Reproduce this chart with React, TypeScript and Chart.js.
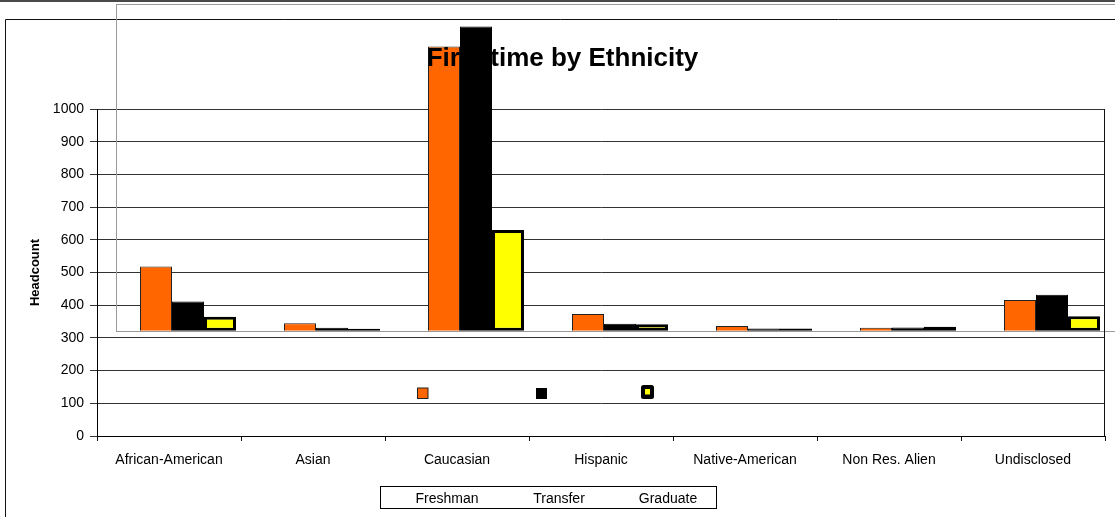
import React, { useEffect, useRef } from 'react';
import { Chart, registerables } from 'chart.js';

Chart.register(...registerables);

// ---- data ----
const categories = ['African-American', 'Asian', 'Caucasian', 'Hispanic', 'Native-American', 'Non Res. Alien', 'Undisclosed'];
const seriesNames = ['Freshman', 'Transfer', 'Graduate'];
const freshman = [196, 23, 869, 51, 14, 9, 94];
const transfer = [89, 9, 930, 21, 7, 10, 110];
const graduate = [43, 6, 308, 20, 7, 12, 44];
const yMin = 0;
const yMax = 1000;
const yStep = 100;
const chartTitle = 'First time by Ethnicity';
const yTitle = 'Headcount';

// ---- style ----
const FONT = "'Liberation Sans', Arial, sans-serif";
const ORANGE = '#FF6600';
const BLACK = '#000000';
const YELLOW = '#FFFF00';
// displaced inner plot (bars) relative to axis plot area
const DX = 19;
const DY = -105.3;

const decorPlugin = {
  id: 'decor',
  afterLayout(chart: any) {
    const a = chart.chartArea;
    const xb = chart.scales.xb;
    const yb = chart.scales.yb;
    xb.left = a.left + DX;
    xb.right = a.right + DX;
    xb.width = xb.right - xb.left;
    yb.top = a.top + DY;
    yb.bottom = a.bottom + DY;
    yb.height = yb.bottom - yb.top;
    xb.configure();
    yb.configure();
  },
  beforeDraw(chart: any) {
    const ctx = chart.ctx;
    const W = chart.width;
    const H = chart.height;
    ctx.save();
    // top frame line
    ctx.fillStyle = '#4a4a4a';
    ctx.fillRect(0, 0, W, 2);
    // outer chart border
    ctx.strokeStyle = '#111';
    ctx.lineWidth = 1;
    ctx.beginPath();
    ctx.moveTo(5.5, H + 2);
    ctx.lineTo(5.5, 19.5);
    ctx.lineTo(W + 2, 19.5);
    ctx.stroke();
    ctx.restore();
  },
  beforeDatasetsDraw(chart: any) {
    const ctx = chart.ctx;
    const xb = chart.scales.xb;
    const yb = chart.scales.yb;
    ctx.save();
    ctx.strokeStyle = '#9a9a9a';
    ctx.lineWidth = 1;
    ctx.strokeRect(Math.round(xb.left) + 0.5, Math.round(yb.top) + 0.5, xb.right - xb.left, yb.bottom - yb.top);
    ctx.restore();
  },
  afterDatasetsDraw(chart: any) {
    const ctx = chart.ctx;
    const a = chart.chartArea;
    ctx.save();
    // right border of plot area
    ctx.strokeStyle = '#111';
    ctx.lineWidth = 1;
    ctx.beginPath();
    ctx.moveTo(Math.round(a.right) - 0.5, a.top);
    ctx.lineTo(Math.round(a.right) - 0.5, a.bottom);
    ctx.stroke();
    // title (drawn over the bars)
    ctx.fillStyle = '#000';
    ctx.font = `bold 26px ${FONT}`;
    ctx.textAlign = 'center';
    ctx.textBaseline = 'alphabetic';
    ctx.fillText(chartTitle, 562.5, 66);

    // legend box
    const lx = 380, ly = 486, lw = 336, lh = 22;
    ctx.strokeStyle = '#000';
    ctx.strokeRect(lx + 0.5, ly + 0.5, lw, lh);
    ctx.font = `14px ${FONT}`;
    ctx.textBaseline = 'alphabetic';
    const textX = [447, 559, 668];
    seriesNames.forEach((n, i) => ctx.fillText(n, textX[i], 502.5));

    // displaced legend markers
    ctx.fillStyle = ORANGE;
    ctx.fillRect(417.5, 388, 10.5, 10.5);
    ctx.strokeStyle = '#222';
    ctx.strokeRect(417.5, 388, 10.5, 10.5);
    ctx.fillStyle = BLACK;
    ctx.fillRect(536, 388, 11, 11);
    ctx.beginPath();
    ctx.fillStyle = BLACK;
    (ctx as any).roundRect(641, 385, 13, 14, 2.5);
    ctx.fill();
    ctx.fillStyle = YELLOW;
    ctx.fillRect(645, 389, 5, 5.5);
    ctx.restore();
  },
};

export default function App() {
  const ref = useRef<HTMLCanvasElement | null>(null);

  useEffect(() => {
    document.body.style.margin = '0';
    const canvas = ref.current;
    if (!canvas) return;
    const chart = new Chart(canvas, {
      type: 'bar',
      data: {
        labels: categories,
        datasets: [
          {
            label: seriesNames[0],
            data: freshman,
            backgroundColor: ORANGE,
            borderColor: '#222',
            borderWidth: 1,
            borderSkipped: 'start',
            xAxisID: 'xb',
            yAxisID: 'yb',
            clip: false,
          },
          {
            label: seriesNames[1],
            data: transfer,
            backgroundColor: BLACK,
            borderColor: BLACK,
            borderWidth: 1,
            xAxisID: 'xb',
            yAxisID: 'yb',
            clip: false,
          },
          {
            label: seriesNames[2],
            data: graduate,
            backgroundColor: YELLOW,
            borderColor: BLACK,
            borderWidth: 3,
            borderSkipped: false,
            xAxisID: 'xb',
            yAxisID: 'yb',
            clip: false,
          },
        ],
      },
      options: {
        animation: false,
        responsive: false,
        events: [],
        categoryPercentage: 2 / 3,
        barPercentage: 1,
        layout: { padding: { top: 109, left: 0, right: 10, bottom: 0 } },
        plugins: {
          legend: { display: false },
          title: { display: false },
          tooltip: { enabled: false },
        },
        scales: {
          x: {
            type: 'category',
            labels: categories,
            position: 'bottom',
            offset: true,
            afterFit: (s: any) => { s.height = 81; },
            grid: { offset: true, drawOnChartArea: false, tickLength: 5, color: '#111', lineWidth: 1 },
            border: { display: true, color: '#000', width: 1 },
            ticks: { color: '#000', font: { family: FONT, size: 14 }, padding: 11, maxRotation: 0, autoSkip: false },
          },
          y: {
            type: 'linear',
            position: 'left',
            min: yMin,
            max: yMax,
            afterFit: (s: any) => { s.width = 97; },
            grid: { color: '#333', lineWidth: 1, tickLength: 7 },
            border: { display: true, color: '#000', width: 1 },
            ticks: {
              stepSize: yStep,
              color: '#000',
              font: { family: FONT, size: 14 },
              padding: 6,
              callback: (v: any) => String(v),
            },
            title: { display: true, text: yTitle, color: '#000', font: { family: FONT, size: 13, weight: 'bold' }, padding: { top: 28, bottom: 0 } },
          },
          xb: {
            type: 'category',
            labels: categories,
            display: false,
            offset: true,
          },
          yb: {
            type: 'linear',
            display: false,
            min: yMin,
            max: yMax,
          },
        },
      },
      plugins: [decorPlugin],
    } as any);
    return () => chart.destroy();
  }, []);

  return <canvas ref={ref} width={1115} height={517} style={{ display: 'block' }} />;
}
